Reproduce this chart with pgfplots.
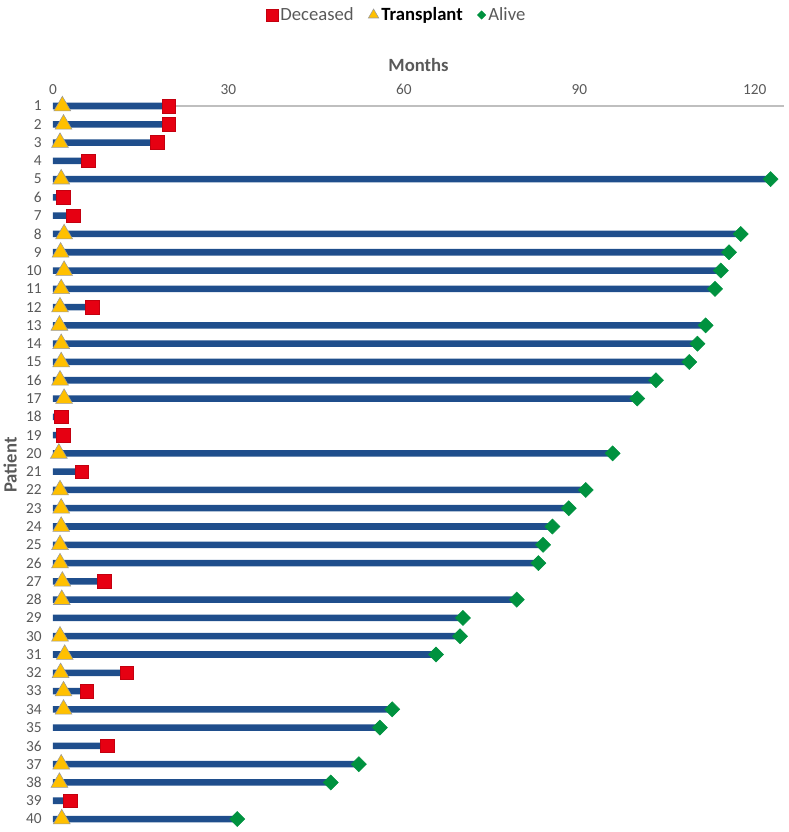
\documentclass[border=0pt]{standalone}
\usepackage{fontspec}
\setmainfont{Carlito}
\usepackage{pgfplots}
\pgfplotsset{compat=1.18}

\definecolor{barblue}{HTML}{1F4E8C}
\definecolor{deadred}{HTML}{E60012}
\definecolor{txyellow}{HTML}{FFC000}
\definecolor{alivegreen}{HTML}{00923F}
\definecolor{txtgray}{HTML}{595959}
\definecolor{axgray}{HTML}{BFBFBF}

\begin{document}
\begin{tikzpicture}
\useasboundingbox (-39.75pt,-1.5pt) rectangle (552pt,622.5pt);
\begin{axis}[
    at={(0,0)}, anchor=south west,
    scale only axis,
    width=548.25pt, height=543pt,
    xmin=0, xmax=125,
    ymin=1, ymax=40.6,
    y dir=reverse,
    clip=false,
    axis line style={draw=none},
    major tick length=0pt,
    xtick={0,30,60,90,120},
    ytick={1,...,40},
    xticklabel pos=upper,
    /pgf/number format/assume math mode=true,
    tick label style={font=\fontsize{11.5}{13}\selectfont, text=txtgray},
    xticklabel style={yshift=5pt},
    yticklabel style={xshift=-5pt},
    xlabel={\textbf{Months}},
    xlabel style={at={(axis description cs:0.5,1.0566)}, anchor=center,
        font=\fontsize{14}{16}\selectfont, text=txtgray},
    ylabel={\textbf{Patient}},
    ylabel style={at={(axis description cs:-0.0588,0.504)}, anchor=center,
        font=\fontsize{14}{16}\selectfont, text=txtgray},
    legend columns=3,
    legend style={at={(axis description cs:0.4706,1.1257)}, anchor=center,
        draw=none, fill=none, font=\fontsize{14}{16}\selectfont, text=txtgray,
        /tikz/every even column/.append style={column sep=9pt}},
    legend image code/.code={\draw[#1] plot coordinates {(0pt,0pt)};},
]

% top axis line through patient 1, under the bars
\draw[axgray, line width=0.8pt] (axis cs:0,1) -- (axis cs:125,1);

% follow-up bars, 0 to last event
\addplot[xbar, bar width=4.9pt, fill=barblue, draw=none, forget plot] coordinates {
    (19.8,1) (19.8,2) (17.8,3) (6.0,4) (122.7,5) (1.8,6) (3.5,7) (117.6,8)
    (115.6,9) (114.2,10) (113.2,11) (6.7,12) (111.6,13) (110.2,14) (108.8,15)
    (103.1,16) (99.9,17) (1.4,18) (1.8,19) (95.7,20) (4.9,21) (91.1,22)
    (88.2,23) (85.4,24) (83.8,25) (83.0,26) (8.8,27) (79.3,28) (70.1,29)
    (69.6,30) (65.5,31) (12.6,32) (5.8,33) (58.0,34) (55.9,35) (9.3,36)
    (52.3,37) (47.5,38) (3.0,39) (31.5,40)
};

\addplot[only marks, mark=square*, mark size=5.1pt,
    mark options={fill=deadred, draw=deadred!85!black, line width=0.4pt},
    legend image post style={mark size=4.4pt}] coordinates {
    (19.8,1) (19.8,2) (17.8,3) (6.0,4) (1.8,6) (3.5,7) (6.7,12) (1.4,18)
    (1.8,19) (4.9,21) (8.8,27) (12.6,32) (5.8,33) (9.3,36) (3.0,39)
};
\addlegendentry{Deceased}

\addplot[only marks, mark=triangle*, mark size=7.3pt,
    mark options={fill=txyellow, draw=black!40, line width=0.4pt},
    legend image post style={mark size=4.5pt}] coordinates {
    (1.6,1) (1.8,2) (1.2,3) (1.4,5) (1.9,8) (1.3,9) (1.9,10) (1.4,11)
    (1.2,12) (1.1,13) (1.4,14) (1.4,15) (1.2,16) (1.9,17) (1.0,20) (1.2,22)
    (1.4,23) (1.4,24) (1.2,25) (1.2,26) (1.6,27) (1.5,28) (1.2,30) (2.0,31)
    (1.3,32) (1.8,33) (1.8,34) (1.4,37) (1.1,38) (1.5,40)
};
\addlegendentry{\textcolor{black}{\textbf{Transplant}}}

\addplot[only marks, mark=square*, mark size=4pt,
    mark options={fill=alivegreen, draw=alivegreen, rotate=45},
    legend image post style={mark size=2.2pt}] coordinates {
    (122.7,5) (117.6,8) (115.6,9) (114.2,10) (113.2,11) (111.6,13)
    (110.2,14) (108.8,15) (103.1,16) (99.9,17) (95.7,20) (91.1,22)
    (88.2,23) (85.4,24) (83.8,25) (83.0,26) (79.3,28) (70.1,29) (69.6,30)
    (65.5,31) (58.0,34) (55.9,35) (52.3,37) (47.5,38) (31.5,40)
};
\addlegendentry{Alive}
\end{axis}
\end{tikzpicture}
\end{document}
